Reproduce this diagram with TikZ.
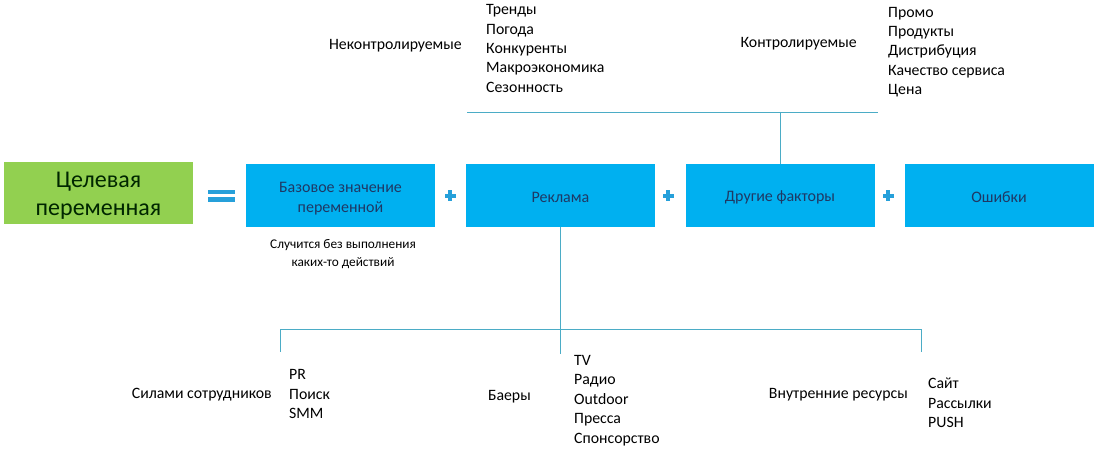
\documentclass[tikz,border=0pt]{standalone}
\usepackage{fontspec}
\setmainfont{Carlito}
\definecolor{boxblue}{RGB}{0,176,240}
\definecolor{boxgreen}{RGB}{146,208,80}
\definecolor{boxtext}{RGB}{31,56,100}
\definecolor{linecol}{RGB}{75,172,198}
\definecolor{signcol}{RGB}{38,160,218}
\begin{document}
\begin{tikzpicture}[x=1pt,y=-1pt,
  bluebox/.style={fill=boxblue, draw=none, minimum width=189pt, minimum height=63pt, inner sep=0pt},
  bluetext/.style={inner sep=0pt, align=center, text=boxtext, font=\fontsize{16}{20}\selectfont, yshift=-2pt},
  greenbox/.style={fill=boxgreen, draw=none, minimum width=189pt, minimum height=62pt, inner sep=0pt},
  greentext/.style={inner sep=0pt, align=center, text=black!85!green, font=\fontsize{24}{28}\selectfont, yshift=-3pt},
  lbl/.style={inner sep=0pt, anchor=west, font=\fontsize{15.8}{19.4}\selectfont, align=left},
  conn/.style={draw=linecol, line width=0.9pt},
  sign/.style={fill=signcol, draw=none}
]
\useasboundingbox (0,0) rectangle (1103,457);
\fill[white] (0,0) rectangle (1103,457);

% main row
\node[greenbox, label={[greentext]center:Целевая\\переменная}] (target) at (98.5,193) {};
\node[bluebox, label={[bluetext, yshift=-1pt]center:Базовое значение\\переменной}] (base) at (340.5,195.5) {};
\node[bluebox, label={[bluetext]center:Реклама}] (adv) at (560.5,195.5) {};
\node[bluebox, label={[bluetext]center:Другие факторы}] (other) at (780,195.5) {};
\node[bluebox, label={[bluetext]center:Ошибки}] (err) at (999,195.5) {};

% equals sign
\fill[sign] (208,190) rectangle (235,194.5);
\fill[sign] (208,197.5) rectangle (235,202);
% plus signs
\foreach \cx in {450,668,888}{
  \fill[sign] (\cx-5.5,194) rectangle (\cx+5.5,198);
  \fill[sign] (\cx-2,190.5) rectangle (\cx+2,201.5);
}

% note under base
\node[inner sep=0pt, align=center, font=\fontsize{13.3}{18}\selectfont] (note) at (343,254.5) {Случится без выполнения\\каких-то действий};

% top part
\node[lbl, anchor=east] (unctl) at (462,46) {Неконтролируемые};
\node[lbl] (unctllist) at (486,48.5) {Тренды\\Погода\\Конкуренты\\Макроэкономика\\Сезонность};
\node[lbl, anchor=east] (ctl) at (857,44) {Контролируемые};
\node[lbl] (ctllist) at (888,52) {Промо\\Продукты\\Дистрибуция\\Качество сервиса\\Цена};

\coordinate (tl) at (467,112);
\coordinate (tr) at (878,112);
\coordinate (tm) at (other.north |- tl);
\draw[conn] (tl) -- (tr);
\draw[conn] (tm) -- (other.north);

% bottom part
\coordinate (bl) at (280,329);
\coordinate (br) at (921,329);
\coordinate (blend) at (280,352);
\coordinate (brend) at (921,352);
\coordinate (bmend) at (adv.south |- 0,354);
\draw[conn] (adv.south) -- (bmend);
\draw[conn] (bl) -- (br);
\draw[conn] (bl) -- (blend);
\draw[conn] (br) -- (brend);

\node[lbl, anchor=east] (staff) at (272,395) {Силами сотрудников};
\node[lbl] (stafflist) at (289,394) {PR\\Поиск\\SMM};
\node[lbl, anchor=east] (buyers) at (531,397) {Баеры};
\node[lbl] (buyerslist) at (574,400.5) {TV\\Радио\\Outdoor\\Пресса\\Спонсорство};
\node[lbl, anchor=east] (inner) at (908,395) {Внутренние ресурсы};
\node[lbl] (innerlist) at (928,403) {Сайт\\Рассылки\\PUSH};
\end{tikzpicture}
\end{document}
